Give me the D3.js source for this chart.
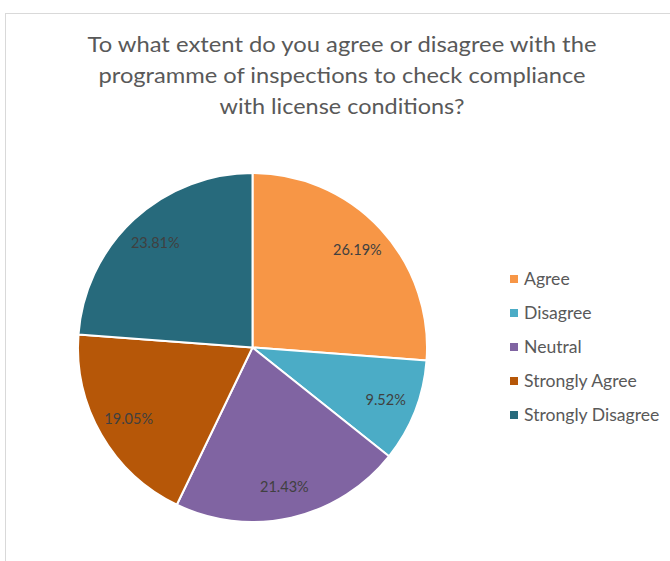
<!DOCTYPE html>
<html>
<head>
<meta charset="utf-8">
<script src="https://cdn.jsdelivr.net/npm/d3@7"></script>
<style>
  html, body { margin: 0; padding: 0; background: #fff; }
  svg { display: block; }
</style>
</head>
<body>
<svg id="chart" width="670" height="561"></svg>
<script>
// Survey responses (share of respondents, %)
const categories = ["Agree", "Disagree", "Neutral", "Strongly Agree", "Strongly Disagree"];
const values = [26.19, 9.52, 21.43, 19.05, 23.81];
const colors = ["#F79646", "#4BACC6", "#8064A2", "#B65708", "#276A7C"];
const titleLines = [
  "To what extent do you agree or disagree with the",
  "programme of inspections to check compliance",
  "with license conditions?"
];

const svg = d3.select("#chart");
const font = "Lato, 'Open Sans', 'Liberation Sans', sans-serif";

// Chart area frame
svg.append("rect")
  .attr("x", 5.5).attr("y", 13.5)
  .attr("width", 700).attr("height", 600)
  .attr("fill", "#fff")
  .attr("stroke", "#d9d9d9").attr("stroke-width", 1);

// Title
const titleWidths = [509, 487, 245];
svg.append("g").selectAll("text")
  .data(titleLines)
  .join("text")
  .attr("x", 342)
  .attr("y", (d, i) => 52 + i * 31)
  .attr("text-anchor", "middle")
  .attr("font-family", font)
  .attr("font-size", 22)
  .attr("fill", "#595959")
  .attr("textLength", (d, i) => titleWidths[i])
  .attr("lengthAdjust", "spacingAndGlyphs")
  .text(d => d);

// Pie, starting at 12 o'clock and running clockwise
const cx = 252.5, cy = 347.5, r = 174.5;
const data = categories.map((c, i) => ({ category: c, value: values[i], color: colors[i] }));
const pie = d3.pie().value(d => d.value).sort(null);
const arc = d3.arc().innerRadius(0).outerRadius(r);
const arcs = pie(data);

const g = svg.append("g").attr("transform", `translate(${cx},${cy})`);
g.selectAll("path")
  .data(arcs)
  .join("path")
  .attr("d", arc)
  .attr("fill", d => d.data.color)
  .attr("stroke", "#fff")
  .attr("stroke-width", 2)
  .attr("stroke-linejoin", "round");

// Value labels along each slice's mid-angle
const labelArc = d3.arc().innerRadius(143).outerRadius(143);
g.selectAll("text.value")
  .data(arcs)
  .join("text")
  .attr("class", "value")
  .attr("transform", d => `translate(${labelArc.centroid(d)})`)
  .attr("text-anchor", "middle")
  .attr("dy", "0.35em")
  .attr("font-family", font)
  .attr("font-size", 14.5)
  .attr("fill", "#404040")
  .text(d => d.data.value.toFixed(2) + "%");

// Legend
const legend = svg.append("g").attr("transform", "translate(510,279)");
const rows = legend.selectAll("g")
  .data(data)
  .join("g")
  .attr("transform", (d, i) => `translate(0,${i * 34})`);
rows.append("rect")
  .attr("x", 0).attr("y", -4)
  .attr("width", 8).attr("height", 8)
  .attr("fill", d => d.color);
rows.append("text")
  .attr("x", 14).attr("y", 0)
  .attr("dy", "0.36em")
  .attr("font-family", font)
  .attr("font-size", 17.6)
  .attr("fill", "#595959")
  .text(d => d.category);
</script>
</body>
</html>
